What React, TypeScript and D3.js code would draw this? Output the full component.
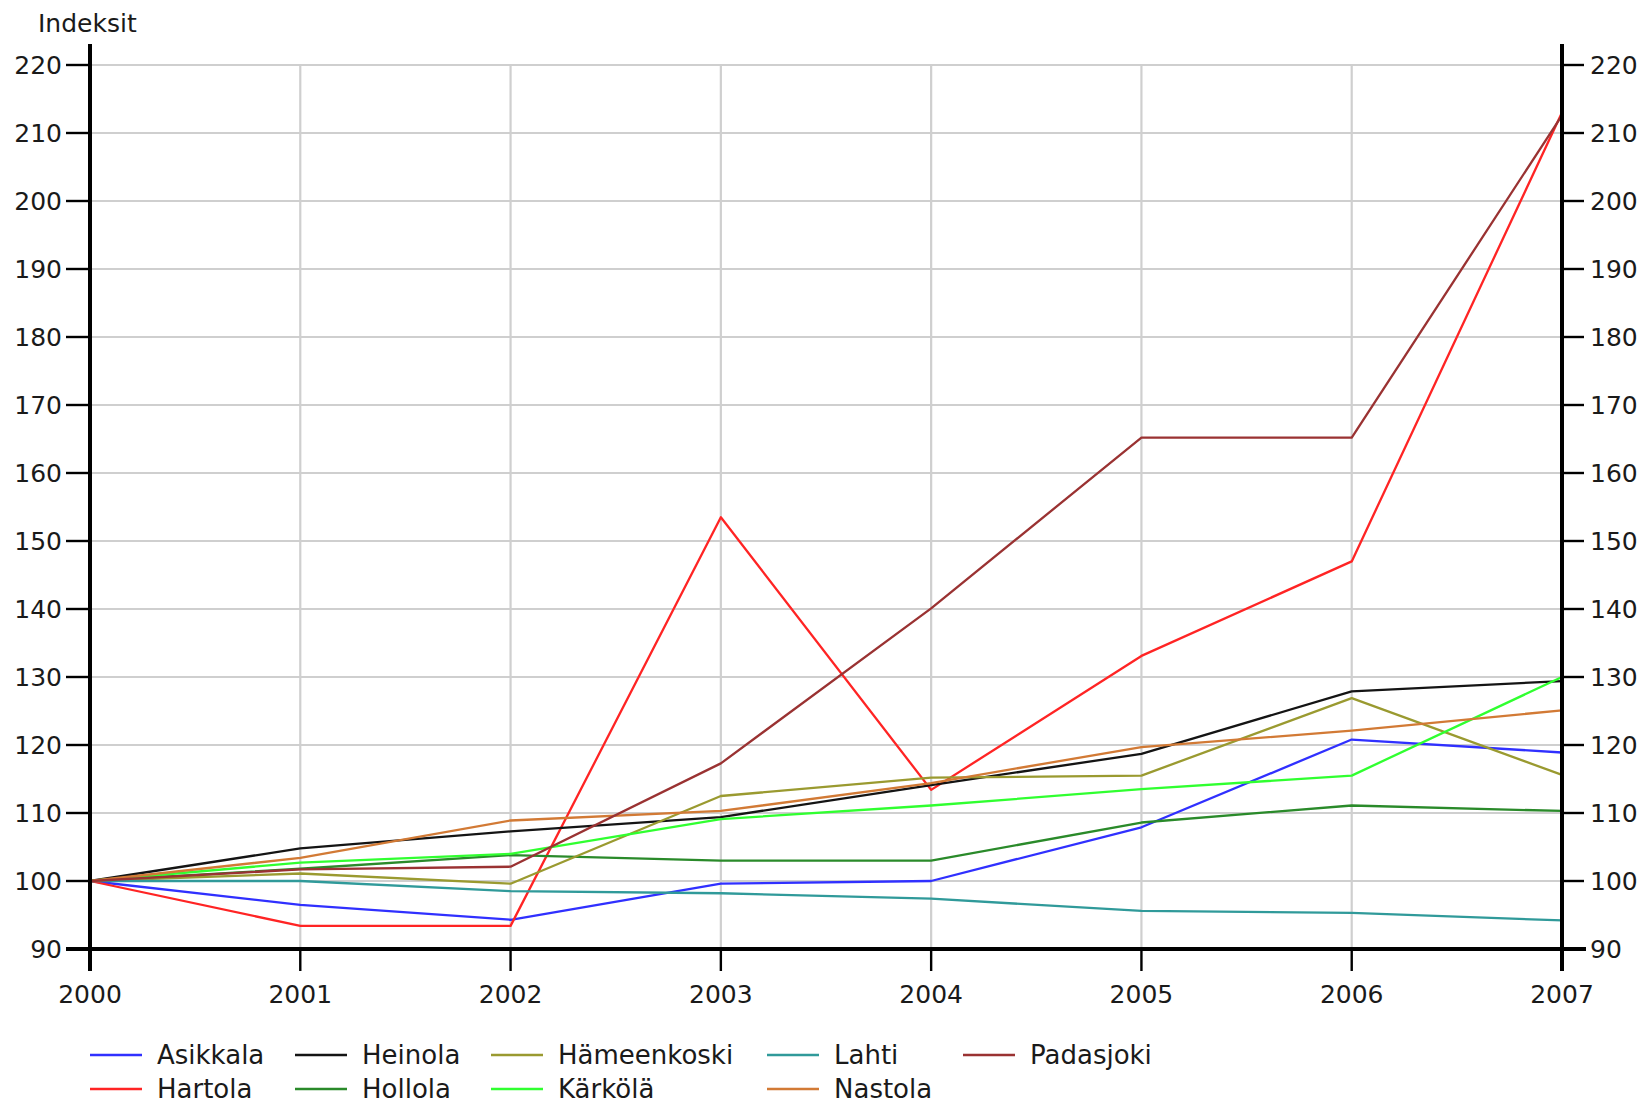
import { line, scaleLinear } from "d3";

const years = [2000, 2001, 2002, 2003, 2004, 2005, 2006, 2007];
const yTicks = [90, 100, 110, 120, 130, 140, 150, 160, 170, 180, 190, 200, 210, 220];

const asikkala = [100, 96.5, 94.3, 99.6, 100, 107.9, 120.8, 118.9];
const hartola = [100, 93.4, 93.4, 153.5, 113.4, 133.1, 147.0, 213];
const heinola = [100, 104.8, 107.3, 109.4, 114.1, 118.7, 127.9, 129.4];
const hollola = [100, 101.8, 103.8, 103.0, 103.0, 108.6, 111.1, 110.3];
const hameenkoski = [100, 101.1, 99.6, 112.5, 115.2, 115.5, 126.9, 115.6];
const karkola = [100, 102.7, 104.0, 109.1, 111.1, 113.5, 115.5, 130.0];
const lahti = [100, 100, 98.5, 98.2, 97.4, 95.6, 95.3, 94.2];
const nastola = [100, 103.4, 108.9, 110.3, 114.4, 119.7, 122.1, 125.1];
const padasjoki = [100, 101.7, 102.1, 117.3, 140.1, 165.2, 165.2, 212.6];

const series = [
  { name: "Asikkala", values: asikkala, color: "#3030ff" },
  { name: "Hartola", values: hartola, color: "#ff2424" },
  { name: "Heinola", values: heinola, color: "#141414" },
  { name: "Hollola", values: hollola, color: "#2a8a2a" },
  { name: "Hämeenkoski", values: hameenkoski, color: "#9a9a30" },
  { name: "Kärkölä", values: karkola, color: "#30ff30" },
  { name: "Lahti", values: lahti, color: "#309a9a" },
  { name: "Nastola", values: nastola, color: "#d27a35" },
  { name: "Padasjoki", values: padasjoki, color: "#9a3232" },
];

export default function App() {
  const width = 1642;
  const height = 1106;
  const left = 90;
  const right = 1562;
  const top = 65;
  const bottom = 949;
  const font = "'DejaVu Sans', Verdana, sans-serif";

  const x = scaleLinear().domain([2000, 2007]).range([left, right]);
  const y = scaleLinear().domain([90, 220]).range([bottom, top]);

  const path = line<number>()
    .x((_, i) => x(years[i]))
    .y((v) => y(v));

  // legend: two rows, filled column by column
  const legendCols = [90, 295, 491, 767, 963];
  const legendRows = [1055, 1089];

  return (
    <div style={{ position: "absolute", left: 0, top: 0 }}>
      <svg width={width} height={height} style={{ display: "block", background: "#fff" }}>
        {yTicks.slice(1).map((t) => (
          <line key={`gy${t}`} x1={left} x2={right} y1={y(t)} y2={y(t)} stroke="#cfcfcf" strokeWidth="2.2" />
        ))}
        {years.slice(1, -1).map((yr) => (
          <line key={`gx${yr}`} x1={x(yr)} x2={x(yr)} y1={y(220)} y2={bottom} stroke="#cfcfcf" strokeWidth="2.2" />
        ))}

        {series.map((s) => (
          <path key={s.name} d={path(s.values) ?? ""} fill="none" stroke={s.color} strokeWidth="2.3" strokeLinejoin="round" />
        ))}

        {/* axes */}
        <line x1={left - 24} x2={right + 24} y1={bottom} y2={bottom} stroke="#000" strokeWidth="4" />
        <line x1={left} x2={left} y1={44} y2={bottom + 22} stroke="#000" strokeWidth="4" />
        <line x1={right} x2={right} y1={44} y2={bottom + 22} stroke="#000" strokeWidth="4" />

        {yTicks.map((t) => (
          <g key={`ty${t}`}>
            <line x1={left - 24} x2={left} y1={y(t)} y2={y(t)} stroke="#000" strokeWidth="2.4" />
            <line x1={right} x2={right + 22} y1={y(t)} y2={y(t)} stroke="#000" strokeWidth="2.4" />
            <text x={62} y={y(t) + 9} textAnchor="end" fontFamily={font} fontSize="25" fill="#1a1a1a">
              {t}
            </text>
            <text x={1590} y={y(t) + 9} fontFamily={font} fontSize="25" fill="#1a1a1a">
              {t}
            </text>
          </g>
        ))}

        {years.map((yr) => (
          <g key={`tx${yr}`}>
            <line x1={x(yr)} x2={x(yr)} y1={bottom} y2={bottom + 22} stroke="#000" strokeWidth="2.4" />
            <text x={x(yr)} y={1003} textAnchor="middle" fontFamily={font} fontSize="25" fill="#1a1a1a">
              {yr}
            </text>
          </g>
        ))}

        <text x={38} y={32} fontFamily={font} fontSize="25" fill="#1a1a1a">
          Indeksit
        </text>

        {series.map((s, i) => {
          const lx = legendCols[Math.floor(i / 2)];
          const ly = legendRows[i % 2];
          return (
            <g key={`lg${s.name}`}>
              <line x1={lx} x2={lx + 52} y1={ly} y2={ly} stroke={s.color} strokeWidth="2.5" />
              <text x={lx + 67} y={ly + 9} fontFamily={font} fontSize="26" fill="#1a1a1a">
                {s.name}
              </text>
            </g>
          );
        })}
      </svg>
    </div>
  );
}
